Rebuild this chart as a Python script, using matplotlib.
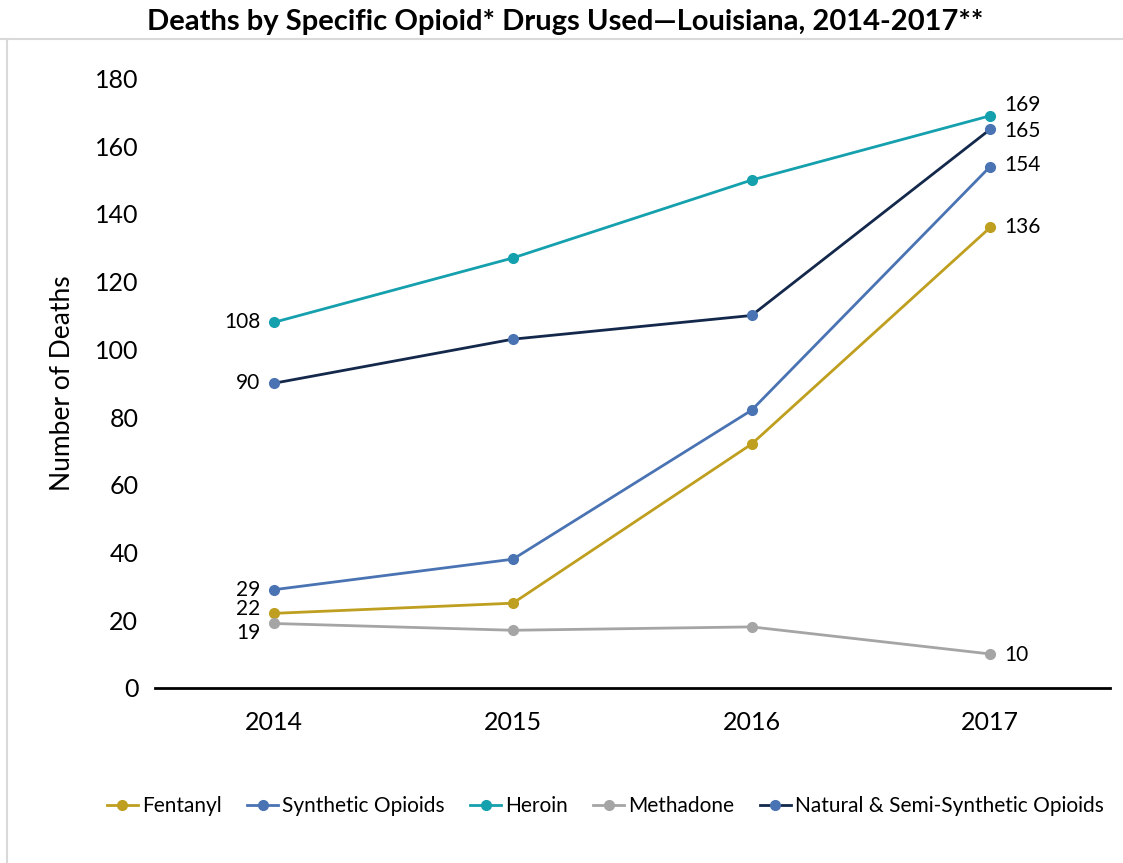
import matplotlib.pyplot as plt
from matplotlib.lines import Line2D

plt.rcParams["font.family"] = ["Lato", "DejaVu Sans"]

years = ["2014", "2015", "2016", "2017"]

fentanyl = [22, 25, 72, 136]
synthetic = [29, 38, 82, 154]
heroin = [108, 127, 150, 169]
methadone = [19, 17, 18, 10]
natural = [90, 103, 110, 165]

series = [
	("Fentanyl", fentanyl, "#bf9f1f", "#bf9f1f"),
	("Synthetic Opioids", synthetic, "#4a73b3", "#4a73b3"),
	("Heroin", heroin, "#14a0ad", "#14a0ad"),
	("Methadone", methadone, "#a5a5a5", "#a5a5a5"),
	("Natural & Semi-Synthetic Opioids", natural, "#13284b", "#4a73b3"),
]

# label offsets in points: (first point, last point)
label_offsets = {
	"Fentanyl": ((-10, 3), (10, 0)),
	"Synthetic Opioids": ((-10, 0), (10, 1)),
	"Heroin": ((-10, 0), (10, 8)),
	"Methadone": ((-10, -7), (10, -1)),
	"Natural & Semi-Synthetic Opioids": ((-10, 0), (10, -1)),
}

fig = plt.figure(figsize=(11.23, 8.63), dpi=100)
ax = fig.add_axes([0.138, 0.203, 0.85, 0.706])

x = list(range(len(years)))
for name, vals, lc, mc in series:
	ax.plot(x, vals, color=lc, linewidth=2, marker="o", markersize=7,
			markerfacecolor=mc, markeredgecolor=mc, label=name)
	(dx0, dy0), (dx1, dy1) = label_offsets[name]
	ax.annotate(str(vals[0]), (x[0], vals[0]), xytext=(dx0, dy0),
				textcoords="offset points", ha="right", va="center", fontsize=15)
	ax.annotate(str(vals[-1]), (x[-1], vals[-1]), xytext=(dx1, dy1),
				textcoords="offset points", ha="left", va="center", fontsize=15)

ax.set_xlim(-0.5, 3.5)
ax.set_ylim(0, 180)
ax.set_yticks(range(0, 181, 20))
ax.set_xticks(x)
ax.set_xticklabels(years)
ax.tick_params(axis="both", length=0, labelsize=18)
ax.tick_params(axis="x", pad=17)
ax.tick_params(axis="y", pad=12)
for s in ["top", "right", "left"]:
	ax.spines[s].set_visible(False)
ax.spines["bottom"].set_linewidth(2)
ax.set_ylabel("Number of Deaths", fontsize=19, labelpad=14)

fig.suptitle("Deaths by Specific Opioid* Drugs Used\u2014Louisiana, 2014-2017**",
			 fontsize=21, fontweight="bold", x=0.503, y=0.989)

# light chart border
fig.add_artist(Line2D([0, 1], [1 - 39 / 863, 1 - 39 / 863], color="#d9d9d9", linewidth=1.5))
fig.add_artist(Line2D([7 / 1123, 7 / 1123], [0, 1 - 39 / 863], color="#d9d9d9", linewidth=1.5))

fig.legend(loc="center", bbox_to_anchor=(0.539, 0.066), ncol=5, frameon=False,
		   fontsize=15, handlelength=1.5, handletextpad=0.2, columnspacing=1.2)

fig.savefig("out.png", dpi=100)
